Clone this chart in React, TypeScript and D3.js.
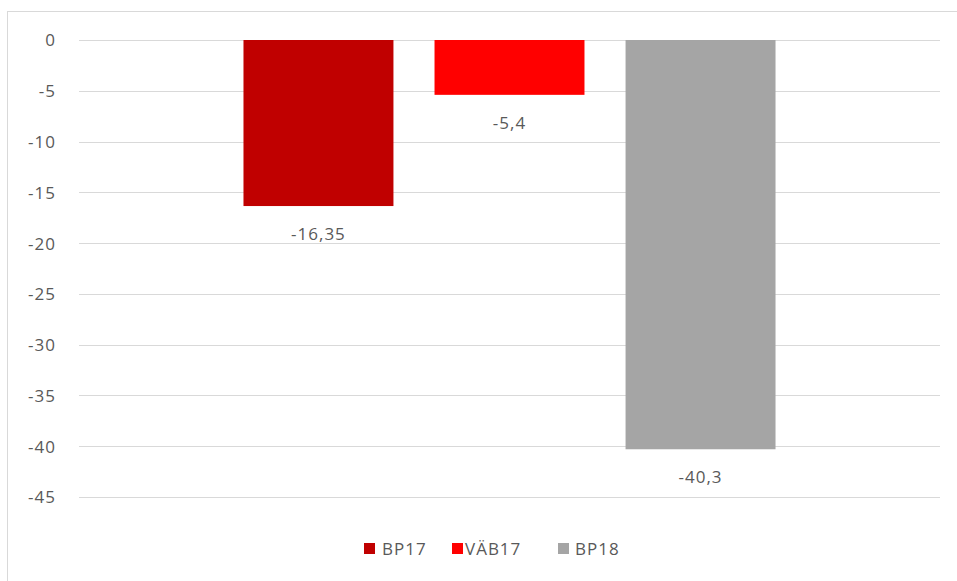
import React from "react";
import * as d3 from "d3";

const seriesNames = ["BP17", "VÄB17", "BP18"];
const seriesValues = [-16.35, -5.4, -40.3];
const valueLabels = ["-16,35", "-5,4", "-40,3"];
const seriesColors = ["#C00000", "#FF0000", "#A5A5A5"];
const yTicks = [0, -5, -10, -15, -20, -25, -30, -35, -40, -45];

const W = 957;
const H = 581;
const plotLeft = 79;
const plotRight = 940;
const plotTop = 40;
const plotBottom = 497;
const font = "'Open Sans', 'Liberation Sans', sans-serif";
const textColor = "#595959";
const fs = 17;
const ls = 1;

export default function App() {
  const y = d3.scaleLinear().domain([0, -45]).range([plotTop, plotBottom]);
  const x = d3
    .scaleBand<string>()
    .domain(seriesNames)
    .range([plotLeft, plotRight])
    .paddingInner(0.215)
    .paddingOuter(0.861);

  const legendItems = [
    { name: seriesNames[0], sq: 364, tx: 382 },
    { name: seriesNames[1], sq: 452, tx: 465 },
    { name: seriesNames[2], sq: 558, tx: 575 },
  ];

  return (
    <svg
      width={W}
      height={H}
      style={{ position: "absolute", left: 0, top: 0, background: "#fff" }}
      fontFamily={font}
    >
      <rect x={7.5} y={11.5} width={W + 10} height={H} fill="#fff" stroke="#D9D9D9" strokeWidth={1} />
      {yTicks.map((t) => (
        <g key={t}>
          <line x1={plotLeft} x2={plotRight} y1={Math.round(y(t)) + 0.5} y2={Math.round(y(t)) + 0.5} stroke="#D9D9D9" strokeWidth={1} />
          <text x={56} y={y(t) + 0.5} dy="0.35em" textAnchor="end" fontSize={fs} letterSpacing={ls} fill={textColor}>
            {t}
          </text>
        </g>
      ))}
      {seriesNames.map((s, i) => {
        const v = seriesValues[i];
        const x0 = x(s) as number;
        return (
          <g key={s}>
            <rect x={x0} y={y(0)} width={x.bandwidth()} height={y(v) - y(0)} fill={seriesColors[i]} />
            <text x={x0 + x.bandwidth() / 2} y={y(v) + 28} dy="0.35em" textAnchor="middle" fontSize={fs} letterSpacing={ls} fill={textColor}>
              {valueLabels[i]}
            </text>
          </g>
        );
      })}
      {legendItems.map((it, i) => (
        <g key={it.name}>
          <rect x={it.sq} y={543} width={11} height={11} fill={seriesColors[i]} />
          <text x={it.tx} y={549} dy="0.35em" fontSize={fs} letterSpacing={ls} fill={textColor}>
            {it.name}
          </text>
        </g>
      ))}
    </svg>
  );
}
